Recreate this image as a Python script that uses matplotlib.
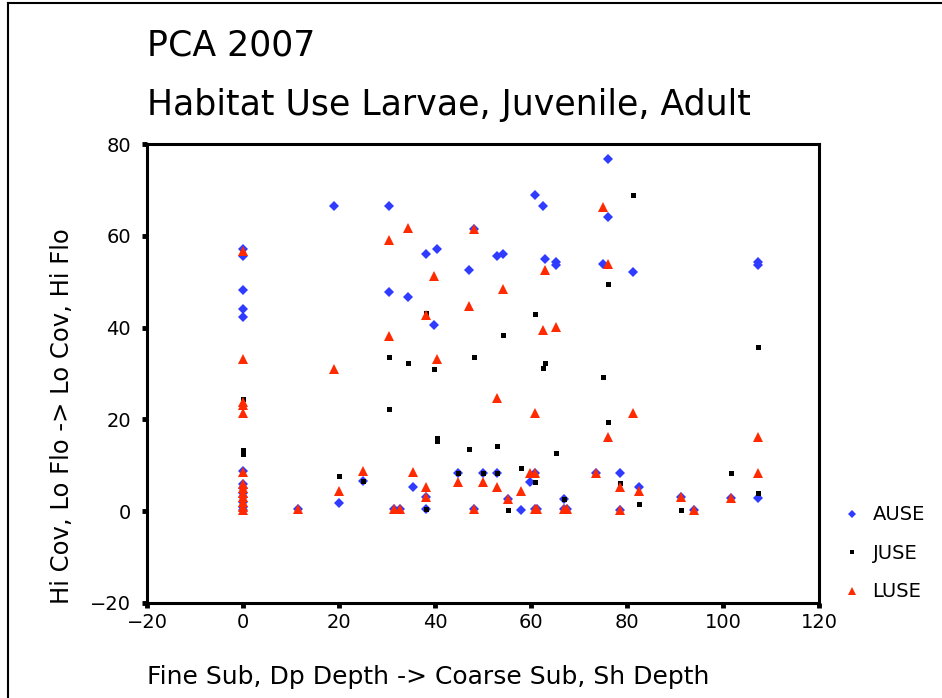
import matplotlib
matplotlib.use("Agg")
import matplotlib.pyplot as plt
from matplotlib.lines import Line2D

# AUSE (adult) - blue diamonds
ause_x = [0, 0, 0, 0, 0, 0, 0, 0, 0, 0, 0, 0, 0,
          11.5, 19, 20, 25, 30.4, 30.4, 31.4, 32.7, 34.3, 35.4, 38.2, 38.2, 38.2,
          39.8, 40.4, 44.8, 47.0, 48.2, 48.2, 49.9, 53.0, 53.0, 54.2, 55.3, 58.0,
          59.8, 60.8, 60.8, 60.8, 61.3, 62.5, 63.0, 65.3, 65.3, 66.9, 66.9, 67.4,
          73.5, 75.0, 76.0, 76.0, 78.5, 78.5, 81.3, 82.4, 91.2, 94.0, 101.7,
          107.2, 107.2, 107.2]
ause_y = [57.2, 55.5, 48.3, 44.1, 42.4, 8.7, 6.0, 5.0, 4.0, 3.0, 2.0, 1.0, 0.3,
          0.5, 66.6, 1.8, 6.5, 66.6, 47.8, 0.4, 0.4, 46.7, 5.3, 56.1, 3.1, 0.4,
          40.5, 57.2, 8.3, 52.5, 61.5, 0.4, 8.3, 55.6, 8.3, 56.1, 2.6, 0.3,
          6.3, 68.8, 8.3, 0.4, 0.4, 66.6, 55.0, 54.3, 53.6, 2.6, 0.4, 0.4,
          8.4, 53.8, 76.7, 64.0, 8.3, 0.3, 52.1, 5.3, 3.0, 0.3, 2.9,
          54.3, 53.6, 2.9]

# JUSE (juvenile) - black squares
juse_x = [0, 0, 0, 0, 20, 25, 30.4, 30.4, 34.3, 38.2, 38.2, 39.8, 40.4, 40.4,
          44.8, 47.0, 48.2, 49.9, 53.0, 53.0, 54.2, 55.3, 58.0, 60.8, 60.8,
          62.5, 63.0, 65.3, 66.9, 75.1, 76.1, 76.1, 78.5, 81.3, 82.4, 91.2,
          101.7, 107.2, 107.2]
juse_y = [24.4, 22.9, 13.4, 12.4, 7.6, 6.5, 33.6, 22.3, 32.3, 43.2, 0.4, 30.9, 16.0, 15.4,
          8.3, 13.6, 33.6, 8.3, 14.1, 8.3, 38.4, 0.3, 9.4, 43.0, 6.3,
          31.2, 32.3, 12.6, 2.6, 29.2, 49.4, 19.4, 6.1, 68.8, 1.6, 0.3,
          8.3, 35.7, 4.0]

# LUSE (larvae) - red triangles
luse_x = [0, 0, 0, 0, 0, 0, 0, 0, 0, 0, 0, 0, 0,
          11.5, 18.9, 20, 25, 30.4, 30.4, 31.4, 32.7, 34.3, 35.4, 38.2, 38.2, 38.2,
          39.8, 40.4, 44.8, 47.0, 48.2, 48.2, 49.9, 53.0, 53.0, 54.2, 55.3, 58.0,
          59.8, 60.8, 60.8, 60.8, 61.3, 62.5, 63.0, 65.3, 66.9, 67.4, 73.5,
          75.1, 76.0, 76.1, 78.5, 78.5, 81.3, 82.4, 91.2, 94.0, 101.7, 107.2, 107.2]
luse_y = [56.7, 33.1, 23.8, 23.2, 21.3, 8.5, 6.0, 5.0, 4.0, 3.0, 2.0, 1.0, 0.3,
          0.5, 30.9, 4.5, 8.8, 59.0, 38.1, 0.4, 0.4, 61.6, 8.5, 42.7, 5.3, 3.1,
          51.2, 33.2, 6.3, 44.8, 61.5, 0.4, 6.3, 24.6, 5.3, 48.5, 2.6, 4.3,
          8.3, 8.3, 21.4, 0.4, 0.4, 39.5, 52.6, 40.1, 0.4, 0.4, 8.4,
          66.3, 53.9, 16.1, 5.2, 0.3, 21.4, 4.3, 3.0, 0.3, 2.9, 16.1, 8.4]

xticks = [-20, 0, 20, 40, 60, 80, 100, 120]
yticks = [-20, 0, 20, 40, 60, 80]

blue = "#2f3cff"
red = "#ff2a00"

fig = plt.figure(figsize=(9.42, 6.98), dpi=100)
ax = fig.add_axes([147 / 942, 1 - 603 / 698, (819 - 147) / 942, (603 - 144) / 698])

ax.plot(ause_x, ause_y, "D", color=blue, markersize=5.2, markeredgewidth=0, linestyle="none")
ax.plot(juse_x, juse_y, "s", color="black", markersize=3.6, markeredgewidth=0, linestyle="none")
ax.plot(luse_x, luse_y, "^", color=red, markersize=7.2, markeredgewidth=0, linestyle="none")

ax.set_xlim(-20, 120)
ax.set_ylim(-20, 80)
ax.set_xticks(xticks)
ax.set_yticks(yticks)
for s in ax.spines.values():
    s.set_linewidth(2.2)
ax.tick_params(direction="out", length=3.5, width=3.5, labelsize=14)
ax.tick_params(axis="y", pad=8)
ax.tick_params(axis="x", pad=4)

# frame around the whole figure (left and top visible)
fig.add_artist(Line2D([8 / 942, 8 / 942], [0, 1 - 3 / 698], color="black", lw=1.5))
fig.add_artist(Line2D([8 / 942, 1], [1 - 3 / 698, 1 - 3 / 698], color="black", lw=1.5))

fig.text(147 / 942, 1 - 45 / 698, "PCA 2007", fontsize=25, va="center", ha="left")
fig.text(147 / 942, 1 - 105 / 698, "Habitat Use Larvae, Juvenile, Adult", fontsize=25,
         va="center", ha="left")
fig.text(147 / 942, 1 - 677 / 698, "Fine Sub, Dp Depth -> Coarse Sub, Sh Depth",
         fontsize=18, va="center", ha="left")
fig.text(62 / 942, 1 - 604 / 698, "Hi Cov, Lo Flo -> Lo Cov, Hi Flo",
         fontsize=17.5, va="bottom", ha="center", rotation=90)

# legend
handles = [
    Line2D([], [], marker="D", color=blue, markersize=4.5, markeredgewidth=0, linestyle="none"),
    Line2D([], [], marker="s", color="black", markersize=3.2, markeredgewidth=0, linestyle="none"),
    Line2D([], [], marker="^", color=red, markersize=6, markeredgewidth=0, linestyle="none"),
]
fig.legend(handles, ["AUSE", "JUSE", "LUSE"], loc="upper left",
           bbox_to_anchor=(823 / 942, 1 - 488 / 698), frameon=False,
           fontsize=14, labelspacing=1.0, handletextpad=0.45, handlelength=1.2)

fig.savefig("out.png", dpi=100)
